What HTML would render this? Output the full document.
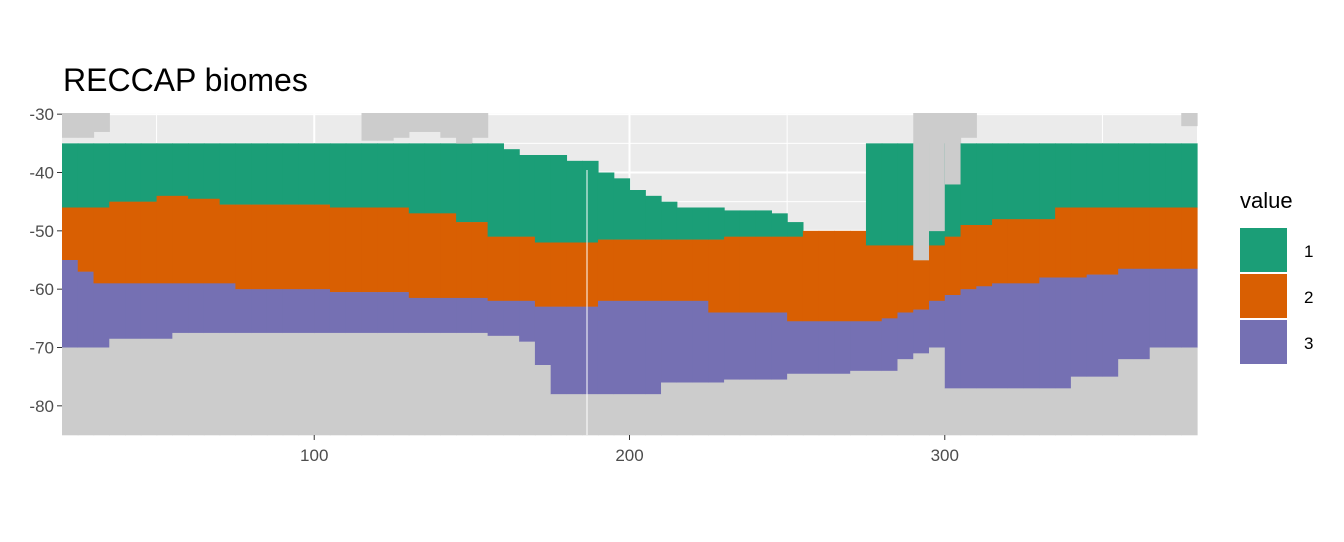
<!DOCTYPE html>
<html><head><meta charset="utf-8"><style>
body{margin:0;background:#fff;}
svg text{font-family:"Liberation Sans",sans-serif;}
</style></head><body>
<svg id="chart" width="1344" height="537" xmlns="http://www.w3.org/2000/svg">
<text x="63" y="91" font-size="32" fill="#000">RECCAP biomes</text>
<g id="panel"></g>
<g id="axes"></g>
<g>
<text x="1240" y="208" font-size="22" fill="#000">value</text>
<rect x="1240" y="228" width="47" height="44" fill="#1B9E77"/>
<rect x="1240" y="274" width="47" height="44" fill="#D95F02"/>
<rect x="1240" y="320" width="47" height="44" fill="#7570B3"/>
<text x="1304" y="257" font-size="17" fill="#000">1</text>
<text x="1304" y="303" font-size="17" fill="#000">2</text>
<text x="1304" y="349" font-size="17" fill="#000">3</text>
</g>
</svg>
<script>
const lons=[20,25,30,35,40,45,50,55,60,65,70,75,80,85,90,95,100,105,110,115,120,125,130,135,140,145,150,155,160,165,170,175,180,185,190,195,200,205,210,215,220,225,230,235,240,245,250,255,260,265,270,275,280,285,290,295,300,305,310,315,320,325,330,335,340,345,350,355,360,365,370,375];
const topLat=[-35,-35,-35,-35,-35,-35,-35,-35,-35,-35,-35,-35,-35,-35,-35,-35,-35,-35,-35,-35,-35,-35,-35,-35,-35,-35,-35,-35,-36,-37,-37,-37,-38,-38,-40,-41,-43,-44,-45,-46,-46,-46,-46.5,-46.5,-46.5,-47,-48.5,-50,-50,-50,-50,-35,-35,-35,-35,-35,-35,-35,-35,-35,-35,-35,-35,-35,-35,-35,-35,-35,-35,-35,-35,-35];
const b12=[-46,-46,-46,-45,-45,-45,-44,-44,-44.5,-44.5,-45.5,-45.5,-45.5,-45.5,-45.5,-45.5,-45.5,-46,-46,-46,-46,-46,-47,-47,-47,-48.5,-48.5,-51,-51,-51,-52,-52,-52,-52,-51.5,-51.5,-51.5,-51.5,-51.5,-51.5,-51.5,-51.5,-51,-51,-51,-51,-51,-50,-50,-50,-50,-52.5,-52.5,-52.5,-52.5,-52.5,-51,-49,-49,-48,-48,-48,-48,-46,-46,-46,-46,-46,-46,-46,-46,-46];
const b23=[-55,-57,-59,-59,-59,-59,-59,-59,-59,-59,-59,-60,-60,-60,-60,-60,-60,-60.5,-60.5,-60.5,-60.5,-60.5,-61.5,-61.5,-61.5,-61.5,-61.5,-62,-62,-62,-63,-63,-63,-63,-62,-62,-62,-62,-62,-62,-62,-64,-64,-64,-64,-64,-65.5,-65.5,-65.5,-65.5,-65.5,-65.5,-65,-64,-63.5,-62,-61,-60,-59.5,-59,-59,-59,-58,-58,-58,-57.5,-57.5,-56.5,-56.5,-56.5,-56.5,-56.5];
const bottomLat=[-70,-70,-70,-68.5,-68.5,-68.5,-68.5,-67.5,-67.5,-67.5,-67.5,-67.5,-67.5,-67.5,-67.5,-67.5,-67.5,-67.5,-67.5,-67.5,-67.5,-67.5,-67.5,-67.5,-67.5,-67.5,-67.5,-68,-68,-69,-73,-78,-78,-78,-78,-78,-78,-78,-76,-76,-76,-76,-75.5,-75.5,-75.5,-75.5,-74.5,-74.5,-74.5,-74.5,-74,-74,-74,-72,-71,-70,-77,-77,-77,-77,-77,-77,-77,-77,-75,-75,-75,-72,-72,-70,-70,-70];
const landNorthLat=[-34,-34,-33,null,null,null,null,null,null,null,null,null,null,null,null,null,null,null,null,-34.5,-34.5,-34,-33,-33,-34,-35,-34,null,null,null,null,null,null,null,null,null,null,null,null,null,null,null,null,null,null,null,null,null,null,null,null,null,null,null,-55,-50,-42,-34,null,null,null,null,null,null,null,null,null,null,null,null,null,-32];
const xTicks=[100,200,300];
const yTicks=[-30,-40,-50,-60,-70,-80];
const X0=62,X1=1197,Y0=113,Y1=435,LON0=20,LON1=380,LAT0=-29.8,LAT1=-85;
const sx=v=>X0+(v-LON0)/(LON1-LON0)*(X1-X0);
const sy=v=>Y0+(v-LAT0)/(LAT1-LAT0)*(Y1-Y0);
const NS="http://www.w3.org/2000/svg";
const panel=document.getElementById('panel'),axes=document.getElementById('axes');
function mk(tag,attrs,parent){const e=document.createElementNS(NS,tag);for(const k in attrs)e.setAttribute(k,attrs[k]);parent.appendChild(e);return e;}
const bg=mk('rect',{x:X0,y:Y0,width:X1-X0,height:Y1-Y0,fill:'#EBEBEB'},panel);


for(let v=50;v<=350;v+=50){const l=mk('line',{x1:sx(v),x2:sx(v),y1:Y0,y2:Y1,stroke:'#fff','stroke-width':v%100===0?2:1},panel);

}
for(let v=-30;v>=-85;v-=5){const l=mk('line',{x1:X0,x2:X1,y1:sy(v),y2:sy(v),stroke:'#fff','stroke-width':v%10===0?2:1},panel);

}
const colW=sx(25)-sx(20);
function band(i,a,b,fill,name){if(a===null||b===null||b>=a)return;const r=mk('rect',{x:sx(lons[i]),y:sy(a),width:colW+0.6,height:sy(b)-sy(a)+0.3,fill:fill},panel);

}
for(let i=0;i<lons.length;i++){
 band(i,topLat[i],b12[i],'#1B9E77','biome-1-cell');
 band(i,b12[i],b23[i],'#D95F02','biome-2-cell');
 band(i,b23[i],bottomLat[i],'#7570B3','biome-3-cell');
 band(i,bottomLat[i],LAT1,'#CCCCCC','antarctica-land-cell');
 if(landNorthLat[i]!==null)band(i,LAT0,landNorthLat[i],'#CCCCCC','northern-land-cell');
}
const vl=mk('line',{x1:587,x2:587,y1:170,y2:Y1,stroke:'#fff','stroke-width':1},panel);


xTicks.forEach(v=>{const t=mk('line',{x1:sx(v),x2:sx(v),y1:Y1,y2:Y1+5,stroke:'#333','stroke-width':1},axes);


const tx=mk('text',{x:sx(v),y:Y1+26,'font-size':17,fill:'#4D4D4D','text-anchor':'middle'},axes);tx.textContent=v;

});
yTicks.forEach(v=>{const t=mk('line',{x1:X0-5,x2:X0,y1:sy(v),y2:sy(v),stroke:'#333','stroke-width':1},axes);


const tx=mk('text',{x:X0-8,y:sy(v)+6,'font-size':17,fill:'#4D4D4D','text-anchor':'end'},axes);tx.textContent=v;

});
</script>
</body></html>
